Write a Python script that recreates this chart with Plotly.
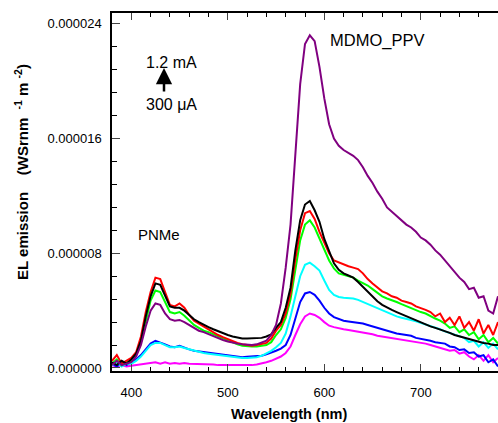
import plotly.graph_objects as go

wavelength = [380, 385, 390, 395, 400, 405, 410, 415, 420, 425, 430, 435, 440, 445, 450, 455, 460, 465, 470, 475,
              480, 485, 490, 495, 500, 505, 510, 515, 520, 525, 530, 535, 540, 545, 550, 555, 560, 565, 570, 575,
              580, 585, 590, 595, 600, 605, 610, 615, 620, 625, 630, 635, 640, 645, 650, 655, 660, 665, 670, 675,
              680, 685, 690, 695, 700, 705, 710, 715, 720, 725, 730, 735, 740, 745, 750, 755, 760, 765, 770, 775, 780]

# values in units of 1e-6 W sr^-1 nm^-1 m^-2
magenta = [0.2, 0.1, 0.2, 0.1, 0.15, 0.2, 0.25, 0.3, 0.35, 0.4, 0.3, 0.4, 0.3, 0.35, 0.3, 0.35, 0.3, 0.3, 0.25, 0.3,
           0.25, 0.25, 0.2, 0.2, 0.2, 0.15, 0.15, 0.2, 0.2, 0.2, 0.25, 0.3, 0.4, 0.5, 0.65, 0.8, 1.05, 1.5, 2.3, 3.05,
           3.6, 3.8, 3.7, 3.5, 3.2, 2.95, 2.85, 2.75, 2.7, 2.65, 2.6, 2.55, 2.5, 2.45, 2.35, 2.25, 2.2, 2.1, 2.05, 2.0,
           1.95, 1.95, 1.9, 1.85, 1.75, 1.7, 1.6, 1.5, 1.4, 1.3, 1.2, 1.25, 1.0, 1.1, 0.8, 0.6, 0.9, 0.5, 0.9, 0.4, 0.7]
blue = [0.3, 0.1, 0.4, 0.2, 0.4, 0.6, 0.9, 1.3, 1.7, 1.9, 1.8, 1.65, 1.5, 1.45, 1.55, 1.4, 1.3, 1.2, 1.15, 1.1,
        1.05, 1.0, 0.95, 0.9, 0.85, 0.8, 0.8, 0.75, 0.78, 0.8, 0.82, 0.85, 0.95, 1.05, 1.2, 1.35, 1.6, 2.3, 3.5, 4.6,
        5.2, 5.3, 5.1, 4.7, 4.2, 3.8, 3.55, 3.4, 3.3, 3.25, 3.2, 3.2, 3.1, 3.0, 2.9, 2.8, 2.65, 2.55, 2.45, 2.4,
        2.35, 2.3, 2.25, 2.1, 2.05, 2.0, 1.9, 1.8, 1.75, 1.7, 1.5, 1.45, 1.25, 1.3, 1.05, 1.1, 0.8, 0.9, 0.4, 0.6, 0.1]
cyan = [0.2, 0.4, 0.1, 0.3, 0.3, 0.5, 0.8, 1.2, 1.6, 1.75, 1.75, 1.6, 1.45, 1.45, 1.5, 1.4, 1.3, 1.2, 1.15, 1.05,
        1.0, 0.95, 0.9, 0.85, 0.8, 0.75, 0.7, 0.7, 0.7, 0.7, 0.75, 0.85, 1.0, 1.2, 1.45, 1.75, 2.4, 3.6, 5.0, 6.4,
        7.2, 7.35, 7.1, 6.8, 6.1, 5.45, 5.1, 4.95, 4.9, 4.9, 4.85, 4.75, 4.6, 4.45, 4.3, 4.15, 4.0, 3.9, 3.75, 3.6,
        3.5, 3.45, 3.35, 3.25, 3.15, 3.05, 2.95, 2.8, 2.7, 2.55, 2.45, 2.3, 2.2, 2.1, 1.8, 1.9, 1.5, 1.8, 1.4, 1.7, 1.3]
green = [0.3, 0.6, 0.2, 0.4, 0.5, 0.9, 1.8, 3.3, 4.7, 5.4, 5.3, 4.6, 3.9, 3.8, 3.9, 3.65, 3.3, 3.0, 2.8, 2.6,
         2.5, 2.35, 2.2, 2.05, 1.9, 1.75, 1.65, 1.55, 1.5, 1.5, 1.5, 1.55, 1.6, 1.8, 2.3, 2.7, 3.5, 4.8, 7.0, 8.9,
         10.0, 10.3, 9.8, 9.0, 8.2, 7.5, 6.95, 6.6, 6.5, 6.4, 6.3, 6.1, 5.95, 5.75, 5.5, 5.25, 5.0, 4.85, 4.75, 4.6,
         4.45, 4.3, 4.2, 4.0, 3.9, 3.8, 3.6, 3.45, 3.3, 3.1, 2.8, 2.9, 2.5, 2.7, 2.3, 2.5, 2.0, 2.3, 1.8, 2.1, 1.7]
red = [0.5, 0.9, 0.3, 0.5, 0.7, 1.1, 2.2, 3.9, 5.3, 6.3, 6.2, 5.3, 4.4, 4.3, 4.5, 4.2, 3.7, 3.3, 3.1, 2.85,
       2.7, 2.5, 2.3, 2.15, 2.0, 1.85, 1.75, 1.65, 1.6, 1.55, 1.6, 1.65, 1.75, 2.05, 2.6, 3.0, 3.8, 5.2, 7.6, 9.6,
       10.8, 10.95, 10.4, 9.5, 8.7, 8.0, 7.5, 7.35, 7.2, 7.1, 7.0, 6.9, 6.6, 6.2, 5.9, 5.6, 5.35, 5.2, 5.0, 4.9,
       4.7, 4.6, 4.5, 4.3, 4.2, 4.05, 3.9, 3.6, 3.8, 3.2, 3.5, 3.0, 3.6, 2.8, 3.2, 2.6, 3.4, 2.4, 3.0, 2.3, 3.2]
black = [0.4, 0.2, 0.5, 0.3, 0.6, 1.0, 1.9, 3.6, 5.0, 5.9, 5.8, 5.0, 4.3, 4.2, 4.2, 4.0, 3.7, 3.4, 3.2, 3.0,
         2.85, 2.7, 2.55, 2.4, 2.3, 2.2, 2.1, 2.05, 2.05, 2.05, 2.05, 2.1, 2.2, 2.35, 2.8, 3.2, 4.2, 5.6, 8.2, 10.3,
         11.4, 11.65, 11.0, 10.2, 9.0, 8.1, 7.3, 6.85, 6.6, 6.45, 6.3, 6.0, 5.65, 5.35, 5.0, 4.65, 4.4, 4.2, 4.05, 3.9,
         3.75, 3.6, 3.45, 3.3, 3.15, 3.05, 2.9, 2.8, 2.7, 2.55, 2.45, 2.3, 2.2, 2.1, 2.0, 1.9, 1.85, 1.75, 1.7, 1.6, 1.6]
purple = [0.2, 0.5, 0.2, 0.3, 0.4, 0.8, 1.6, 2.9, 4.0, 4.5, 4.4, 3.8, 3.4, 3.3, 3.35, 3.2, 3.0, 2.8, 2.6, 2.5,
          2.35, 2.2, 2.1, 1.95, 1.85, 1.75, 1.7, 1.65, 1.6, 1.6, 1.65, 1.75, 1.9, 2.3, 3.0, 4.5, 7.0, 10.0, 15.0, 19.8,
          22.6, 23.2, 22.8, 21.0, 18.8, 17.0, 16.0, 15.5, 15.2, 15.0, 14.8, 14.5, 14.0, 13.4, 12.9, 12.3, 11.8, 11.2, 10.9, 10.6,
          10.3, 10.0, 9.8, 9.5, 9.1, 8.9, 8.6, 8.2, 7.9, 7.5, 7.1, 6.7, 6.3, 6.0, 5.5, 5.6, 4.9, 5.0, 4.0, 3.8, 5.0]

series = [
    ("magenta", magenta, "#ff00ff"),
    ("blue", blue, "#0000ff"),
    ("cyan", cyan, "#00ffff"),
    ("green", green, "#00ff00"),
    ("red", red, "#ff0000"),
    ("black", black, "#000000"),
    ("purple", purple, "#800080"),
]

y_ticks = [0, 8e-6, 16e-6, 24e-6]
x_ticks = [400, 500, 600, 700]

fig = go.Figure()
for name, vals, col in series:
    fig.add_trace(go.Scatter(x=wavelength, y=[v * 1e-6 for v in vals], mode="lines", name=name,
                             line=dict(color=col, width=2), showlegend=False))

FONT = "Arial, Liberation Sans, sans-serif"
L, T, B, R = 112, 13, 371, 498
W = R - L
H = B - T


def px(x):
    return (x - L) / W


def py(y):
    return (B - y) / H


fig.update_layout(
    width=498, height=423,
    margin=dict(l=L, r=0, t=T, b=423 - B, pad=0, autoexpand=False),
    paper_bgcolor="white", plot_bgcolor="white",
    font=dict(family=FONT, color="black", size=13),
    xaxis=dict(range=[380, 780], tickvals=x_ticks, ticks="inside", ticklen=7, tickwidth=1,
               showline=True, linecolor="black", linewidth=1.5, mirror="ticks", showgrid=False, zeroline=False,
               minor=dict(dtick=20, tick0=0, ticks="inside", ticklen=4, tickcolor="black", showgrid=False),
               tickfont=dict(size=13), ticklabelstandoff=9, automargin=False),
    yaxis=dict(range=[-0.21e-6, 24.76e-6], tickvals=y_ticks, tickformat=".6f", ticks="inside", ticklen=8,
               tickwidth=1, showline=True, linecolor="black", linewidth=1.5, showgrid=False, zeroline=False,
               minor=dict(dtick=1.6e-6, tick0=0, ticks="inside", ticklen=5, tickcolor="black", showgrid=False),
               tickfont=dict(size=13), ticklabelstandoff=6, automargin=False),
)

ann = [
    dict(text="MDMO_PPV", x=px(377), y=py(40), size=16.5),
    dict(text="PNMe", x=px(159), y=py(235), size=15),
    dict(text="1.2 mA", x=px(171), y=py(62), size=16),
    dict(text="300 μA", x=px(171), y=py(105), size=16),
]
for a in ann:
    fig.add_annotation(text=a["text"], x=a["x"], y=a["y"], xref="paper", yref="paper", showarrow=False,
                       xanchor="center", yanchor="middle", font=dict(size=a["size"], family=FONT, color="black"))

fig.add_annotation(x=px(164), y=py(68), ax=0, ay=25, xref="paper", yref="paper", axref="pixel",
                   ayref="pixel", text="", showarrow=True, arrowhead=2, arrowsize=1.3, arrowwidth=2.5,
                   arrowcolor="black")

fig.add_annotation(text="<b>Wavelength (nm)</b>", x=px(289), y=py(414), xref="paper", yref="paper",
                   showarrow=False, xanchor="center", yanchor="middle",
                   font=dict(size=14.5, family=FONT, color="black"))

fig.add_annotation(text="<b>EL emission    (WSrnm  <sup>-1</sup> m <sup>-2</sup>)</b>", x=px(22), y=py(172),
                   xref="paper", yref="paper", showarrow=False, textangle=-90, xanchor="center", yanchor="middle",
                   font=dict(size=15, family=FONT, color="black"))

fig.write_html("out.html", config={"displayModeBar": False},
               post_script="document.body.style.margin='0';document.body.style.overflow='hidden';")
